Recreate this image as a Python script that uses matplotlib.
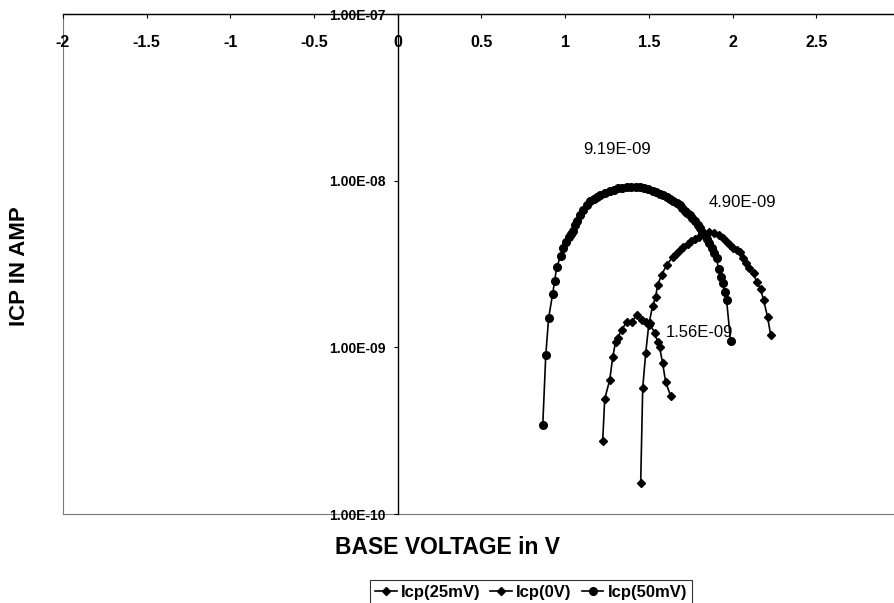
import matplotlib
matplotlib.use('Agg')
import matplotlib.pyplot as plt
from matplotlib.patches import Rectangle
from matplotlib.ticker import FixedLocator, NullLocator, FuncFormatter

plt.rcParams['font.family'] = ['Liberation Sans', 'DejaVu Sans']

# Icp(25mV)
v_25 = [1.224, 1.236, 1.266, 1.284, 1.301, 1.313, 1.337, 1.367, 1.397, 1.427,
        1.457, 1.481, 1.504, 1.534, 1.552, 1.564, 1.582, 1.600, 1.630]
icp_25 = [2.75e-10, 4.90e-10, 6.37e-10, 8.75e-10, 1.08e-9, 1.14e-9, 1.27e-9, 1.42e-9,
          1.42e-9, 1.56e-9, 1.46e-9, 1.42e-9, 1.40e-9, 1.22e-9, 1.08e-9, 1.00e-9,
          8.05e-10, 6.19e-10, 5.11e-10]

# Icp(0V)
v_0 = [1.451, 1.463, 1.481, 1.499, 1.522, 1.540, 1.552, 1.576, 1.606, 1.642,
       1.660, 1.684, 1.705, 1.731, 1.752, 1.773, 1.800, 1.830, 1.860, 1.890,
       1.920, 1.940, 1.964, 1.985, 2.005, 2.025, 2.042, 2.060, 2.080, 2.100,
       2.125, 2.143, 2.167, 2.185, 2.209, 2.227]
icp_0 = [1.54e-10, 5.70e-10, 9.25e-10, 1.36e-9, 1.77e-9, 2.00e-9, 2.37e-9, 2.72e-9,
         3.12e-9, 3.48e-9, 3.65e-9, 3.84e-9, 4.00e-9, 4.17e-9, 4.32e-9, 4.47e-9,
         4.62e-9, 4.80e-9, 4.90e-9, 4.85e-9, 4.70e-9, 4.50e-9, 4.29e-9, 4.10e-9,
         3.95e-9, 3.85e-9, 3.73e-9, 3.45e-9, 3.20e-9, 3.00e-9, 2.79e-9, 2.47e-9,
         2.24e-9, 1.92e-9, 1.52e-9, 1.19e-9]

# Icp(50mV)
v_50 = [0.866, 0.884, 0.901, 0.925, 0.937, 0.949, 0.973, 0.985, 1.003, 1.021,
        1.033, 1.045, 1.057, 1.070, 1.087, 1.105, 1.128, 1.150, 1.170, 1.188,
        1.210, 1.235, 1.266, 1.290, 1.315, 1.340, 1.367, 1.395, 1.420, 1.445,
        1.470, 1.495, 1.522, 1.545, 1.565, 1.585, 1.606, 1.625, 1.645, 1.665,
        1.684, 1.700, 1.715, 1.730, 1.743, 1.760, 1.775, 1.791, 1.805, 1.820,
        1.833, 1.848, 1.862, 1.875, 1.890, 1.904, 1.916, 1.928, 1.940, 1.952,
        1.964, 1.988]
icp_50 = [3.42e-10, 9.0e-10, 1.50e-9, 2.09e-9, 2.50e-9, 3.03e-9, 3.53e-9, 3.94e-9,
          4.29e-9, 4.59e-9, 4.80e-9, 5.00e-9, 5.42e-9, 5.75e-9, 6.22e-9, 6.65e-9,
          7.14e-9, 7.50e-9, 7.80e-9, 7.98e-9, 8.25e-9, 8.45e-9, 8.67e-9, 8.85e-9,
          8.98e-9, 9.08e-9, 9.15e-9, 9.19e-9, 9.17e-9, 9.10e-9, 9.05e-9, 8.90e-9,
          8.67e-9, 8.50e-9, 8.30e-9, 8.15e-9, 7.98e-9, 7.75e-9, 7.50e-9, 7.30e-9,
          7.14e-9, 6.85e-9, 6.60e-9, 6.40e-9, 6.22e-9, 5.95e-9, 5.70e-9, 5.42e-9,
          5.20e-9, 4.95e-9, 4.72e-9, 4.45e-9, 4.20e-9, 3.94e-9, 3.70e-9, 3.44e-9,
          2.95e-9, 2.65e-9, 2.43e-9, 2.15e-9, 1.92e-9, 1.09e-9]

peak_labels = ['9.19E-09', '4.90E-09', '1.56E-09']
peak_label_x = [1.313, 2.06, 1.803]
peak_label_y = [1.53e-8, 7.35e-9, 1.22e-9]

x_ticks = [-2, -1.5, -1, -0.5, 0, 0.5, 1, 1.5, 2, 2.5, 3]
y_ticks = [1e-10, 1e-9, 1e-8, 1e-7]

fig = plt.figure(figsize=(8.95, 6.03), dpi=100)
ax = fig.add_axes([63 / 895, 1 - 514 / 603, 837 / 895, 500 / 603])

ax.plot(v_25, icp_25, color='black', lw=1.2, marker='D', ms=4.5, label='Icp(25mV)')
ax.plot(v_0, icp_0, color='black', lw=1.2, marker='D', ms=4.5, label='Icp(0V)')
ax.plot(v_50, icp_50, color='black', lw=1.2, marker='o', ms=5.5, label='Icp(50mV)')

for txt, tx, ty in zip(peak_labels, peak_label_x, peak_label_y):
    ax.text(tx, ty, txt, ha='center', va='center', fontsize=12)

ax.set_yscale('log')
ax.set_xlim(-2, 3)
ax.set_ylim(1e-10, 1e-7)

# axes cross at x=0 (vertical) and at the top (horizontal)
ax.spines['left'].set_position(('data', 0))
ax.spines['bottom'].set_position(('axes', 1))
ax.spines['top'].set_visible(False)
ax.spines['right'].set_visible(False)
for s in ('left', 'bottom'):
    ax.spines[s].set_linewidth(1.0)
    ax.spines[s].set_zorder(1)

ax.add_patch(Rectangle((0, 0), 1, 1, transform=ax.transAxes, fill=False,
                       edgecolor='#777777', lw=0.8, clip_on=False))

ax.xaxis.set_major_locator(FixedLocator(x_ticks))
ax.xaxis.set_major_formatter(FuncFormatter(lambda v, p: '%g' % v))
ax.yaxis.set_major_locator(FixedLocator(y_ticks))
ax.yaxis.set_minor_locator(NullLocator())
ax.yaxis.set_major_formatter(FuncFormatter(lambda v, p: '%.2E' % v))
ax.tick_params(axis='x', direction='out', length=3, pad=12, labelsize=11.5)
ax.tick_params(axis='y', direction='out', length=3, pad=6, labelsize=10)
for lab in ax.get_xticklabels() + ax.get_yticklabels():
    lab.set_fontweight('bold')

fig.text(20 / 895, 1 - 266 / 603, 'ICP IN AMP', rotation=90,
         ha='center', va='center', fontsize=16, fontweight='bold')
fig.text(448 / 895, 1 - 548 / 603, 'BASE VOLTAGE in V', ha='center', va='center',
         fontsize=16.5, fontweight='bold')

leg = fig.legend(loc='center', bbox_to_anchor=(531 / 895, 1 - 592 / 603), ncol=3,
                 frameon=True, fancybox=False, edgecolor='black', handlelength=1.3,
                 handletextpad=0.25, columnspacing=0.6, borderpad=0.3,
                 prop={'weight': 'bold', 'size': 12})
leg.get_frame().set_linewidth(0.8)

fig.savefig('out.png', dpi=100)
